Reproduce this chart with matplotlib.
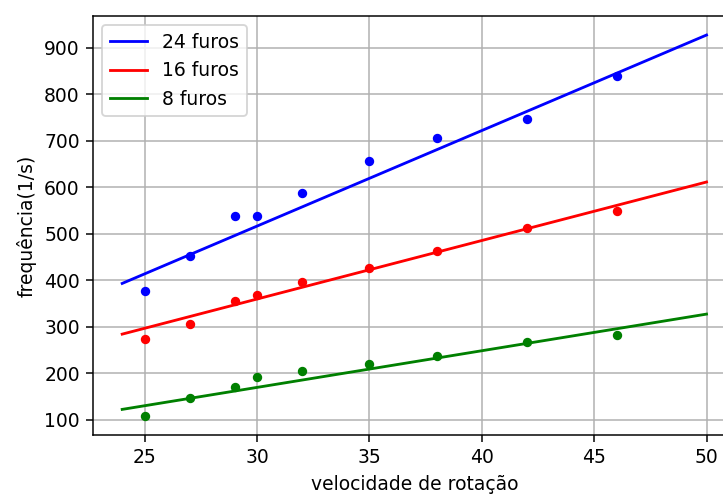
import numpy as np
import matplotlib
matplotlib.use("Agg")
import matplotlib.pyplot as plt
from matplotlib.ticker import MultipleLocator

# velocidade de rotação medida
velocidade = np.array([25, 27, 29, 30, 32, 35, 38, 42, 46])

# frequência medida (1/s) para cada disco
freq_24 = np.array([376, 452, 537, 537, 587, 656, 706, 747, 838])
freq_16 = np.array([273, 306, 355, 368, 397, 426, 462, 512, 548])
freq_8 = np.array([108, 146, 171, 192, 204, 220, 236, 266, 282])

# retas ajustadas: f = a*v + b
inclinacao = [20.54, 12.58, 7.88]
intercepto = [-100.0, -18.0, -67.0]

nomes = ['24 furos', '16 furos', '8 furos']
cores = ['b', 'r', 'g']
medidas = [freq_24, freq_16, freq_8]

v_reta = np.linspace(24, 50, 100)

fig = plt.figure(figsize=(723 / 135, 495 / 135), dpi=135)
ax = fig.add_axes([0.1286, 0.1212, 0.889, 0.8465])

for freq, a, b, cor, nome in zip(medidas, inclinacao, intercepto, cores, nomes):
    ax.plot(velocidade, freq, '.', color=cor, ms=8)
    ax.plot(v_reta, a * v_reta + b, color=cor, label=nome)

ax.yaxis.set_major_locator(MultipleLocator(100))
ax.set_xlabel("velocidade de rotação")
ax.set_ylabel("frequência(1/s)")
ax.legend(loc='upper left')
ax.grid(True)

fig.savefig("out.png", dpi=135)
